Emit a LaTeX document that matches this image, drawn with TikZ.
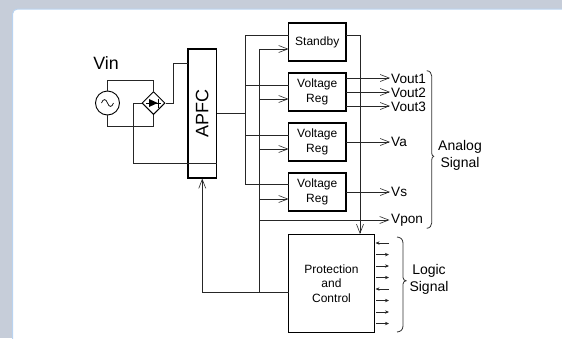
\documentclass[tikz,border=0pt]{standalone}
\usepackage{fontspec}
\setmainfont{Liberation Sans}
\usetikzlibrary{arrows.meta,shapes.geometric}
\definecolor{bgc}{HTML}{C6CDD9}
\definecolor{edgec}{HTML}{B9D3F0}
\begin{document}
\begin{tikzpicture}[x=1pt,y=-1pt,
  wire/.style={draw=black!85,line width=0.75pt},
  openarrow/.style={wire,-{Straight Barb[length=9pt,width=7pt,line width=0.6pt]}},
  smallarrow/.style={wire,-{Stealth[length=4pt,width=3.4pt]}},
  box/.style={draw=black,line width=1.1pt,fill=white,inner sep=0pt,align=center,font=\fontsize{12}{15}\selectfont},
  lab/.style={inner sep=0pt,font=\fontsize{13.6}{15}\selectfont,anchor=west},
  txt/.style={inner sep=0pt,align=center,font=\fontsize{14}{17}\selectfont},
  brace/.style={draw=black!80,line width=0.8pt}]
\useasboundingbox (0,0) rectangle (562,338);
\fill[bgc] (0,0) rectangle (562,338);
\fill[white,draw=edgec,line width=1pt,rounded corners=5pt] (12.5,9) rectangle (580,360);
% boxes
\node[box,minimum width=28.5pt,minimum height=129pt] (apfc) at (202.25,113.5) {\rotatebox{90}{\fontsize{18}{20}\selectfont APFC}};
\node[box,minimum width=57.5pt,minimum height=38pt] (stby) at (317.25,42) {Standby};
\node[box,minimum width=57.5pt,minimum height=38pt] (reg1) at (317.25,92) {Voltage\\Reg};
\node[box,minimum width=57.5pt,minimum height=38pt] (reg2) at (317.25,142) {Voltage\\Reg};
\node[box,minimum width=57.5pt,minimum height=38pt] (reg3) at (317.25,192) {Voltage\\Reg};
\node[box,line width=0.9pt,minimum width=86pt,minimum height=97.5pt,font=\fontsize{12}{14.5}\selectfont] (prot) at (331.5,283.25) {Protection\\and\\Control};
% source and bridge
\node[draw=black,line width=0.9pt,circle,minimum size=24pt,inner sep=0pt] (ac) at (107.5,103) {};
\draw[line width=0.7pt] (101.5,103) .. controls (103,98.5) and (106,98.5) .. (107.5,103) .. controls (109,107.5) and (112,107.5) .. (113.5,103);
\node[draw=black,line width=1pt,diamond,aspect=1,minimum size=23pt,inner sep=0pt] (br) at (153.5,103) {};
\draw[line width=0.7pt] (146,103) -- (161,103);
\fill[black] (149,99) -- (157.7,103) -- (149,107) -- cycle;
\draw[line width=0.8pt] (158,98.5) -- (158,107.5);
% text
\node[inner sep=0pt,font=\fontsize{17.8}{20}\selectfont] (vin) at (106,63) {Vin};
\node[lab] (v1) at (391,79) {Vout1};
\node[lab] (v2) at (391,93) {Vout2};
\node[lab] (v3) at (391,107) {Vout3};
\node[lab] (va) at (391,142) {Va};
\node[lab] (vs) at (391,192) {Vs};
\node[lab] (vp) at (391,220) {Vpon};
\node[txt] (ana) at (460,155) {Analog\\Signal};
\node[txt] (logi) at (429,279.5) {Logic\\Signal};
% named free ends
\coordinate (apfcin) at (188,63);
\coordinate (fbe) at (216.5,163);
\coordinate (railA) at (245.5,113.5);
\coordinate (a0) at (288.5,35);
\coordinate (a1) at (288.5,85);
\coordinate (a2) at (288.5,135);
\coordinate (a3) at (288.5,184.5);
\coordinate (b0) at (288.5,49);
\coordinate (b1) at (288.5,99);
\coordinate (b2) at (288.5,149);
\coordinate (b3) at (288.5,199);
\coordinate (pin) at (288.5,292);
\coordinate (pon) at (389.5,220);
\coordinate (so) at (346,35);
\coordinate (bx) at (259.5,49);
% bridge wires
\draw[wire] (ac.north) -- (107.5,80) -| (br.north);
\draw[wire] (ac.south) -- (107.5,126) -| (br.south);
\draw[wire] (br.east) -- (173.5,103) |- (apfcin);
\draw[wire] (br.west) -- (133.5,103) |- (fbe);
% APFC to rails
\draw[wire] (apfc.east |- railA) -- (railA);
\draw[wire] (a0) -- (245.5,35) -- (245.5,184.5) -- (a3);
\draw[wire] (a1) -- (245.5,85);
\draw[wire] (a2) -- (245.5,135);
\draw[openarrow] (bx) -- (b0);
\draw[openarrow] (259.5,99) -- (b1);
\draw[openarrow] (259.5,149) -- (b2);
\draw[openarrow] (259.5,199) -- (b3);
\draw[wire] (bx) -- (259.5,292);
\draw[openarrow] (259.5,220) -- (pon);
\draw[openarrow] (pin) -| (apfc.south);
% outputs
\draw[openarrow] (346,78) -- (390,78);
\draw[openarrow] (346,92) -- (390,92);
\draw[openarrow] (346,106) -- (390,106);
\draw[openarrow] (346,142) -- (390,142);
\draw[openarrow] (346,192) -- (390,192);
\draw[openarrow] (so) -- (360,35) -- (360,234);
% logic arrows
\foreach \y/\d in {243/1,254.6/0,266/0,277.5/0,289/1,300.5/0,312/0,323.5/0}{
  \ifnum\d=1
    \draw[smallarrow] (389,\y) -- (375.5,\y);
  \else
    \draw[smallarrow] (376,\y) -- (389,\y);
  \fi
}
% braces
\draw[brace] (426.7,70.7) .. controls (430,71) and (431.5,73) .. (431.7,76) -- (431.7,153) .. controls (431.8,155) and (432.5,156) .. (433.7,156.3) .. controls (432.5,156.6) and (431.8,158) .. (431.7,160) -- (431.7,223) .. controls (431.5,226) and (430,228) .. (426.7,228.3);
\draw[brace] (397,237) .. controls (400.5,237.3) and (402.8,239) .. (403,243) -- (403,277.5) .. controls (403.1,279.5) and (404.5,280.5) .. (406,280.8) .. controls (404.5,281.1) and (403.1,282) .. (403,284) -- (403,326) .. controls (402.8,330) and (400.5,331.7) .. (397,332);
\end{tikzpicture}
\end{document}
